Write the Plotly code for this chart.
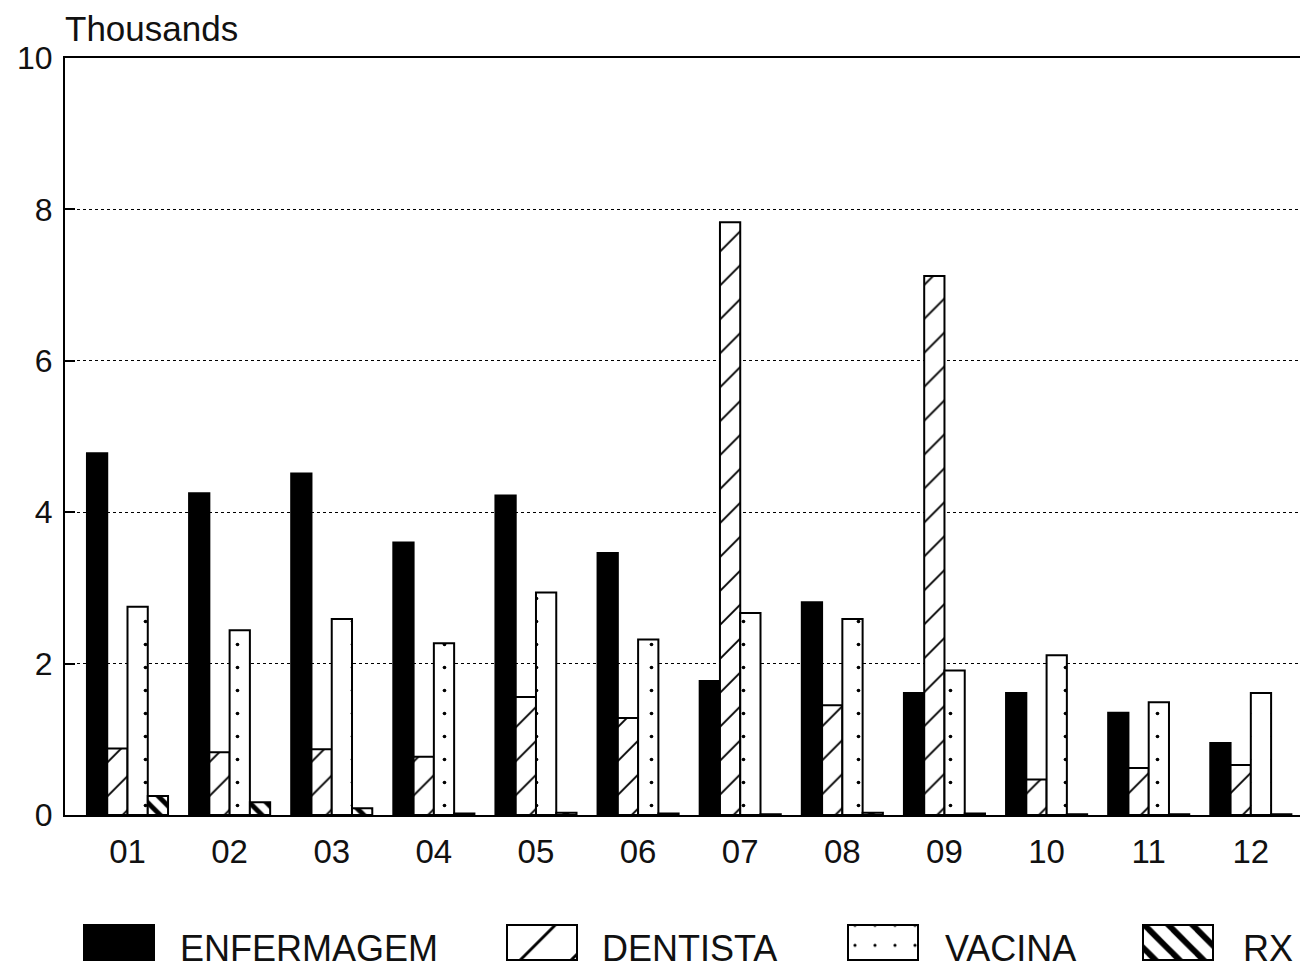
import plotly.graph_objects as go

# ---------------- data ----------------
months = ["01", "02", "03", "04", "05", "06", "07", "08", "09", "10", "11", "12"]
enfermagem = [4.78, 4.25, 4.51, 3.60, 4.22, 3.46, 1.77, 2.81, 1.61, 1.61, 1.35, 0.95]
dentista   = [0.88, 0.83, 0.87, 0.77, 1.56, 1.28, 7.83, 1.45, 7.12, 0.47, 0.62, 0.66]
vacina     = [2.75, 2.44, 2.59, 2.27, 2.94, 2.32, 2.67, 2.59, 1.91, 2.11, 1.49, 1.61]
rx         = [0.25, 0.17, 0.09, 0.02, 0.03, 0.02, 0.01, 0.03, 0.02, 0.01, 0.01, 0.01]
series_names = ["ENFERMAGEM", "DENTISTA", "VACINA", "RX"]
y_ticks = [0, 2, 4, 6, 8, 10]
y_ticktext = ["0", "2", "4", "6", "8", "10"]

FONT = "Liberation Sans"
OFF = 8                      # page offset of the figure (body margin)
W, H = 1300, 961
ML, MR, MT, MB = 57, 1, 50, 5
plot_h = H - MT - MB
main_bottom_page = 815
paper_bottom_page = H - MB + OFF
main_domain_bottom = (paper_bottom_page - main_bottom_page) / plot_h

styles = {
    "ENFERMAGEM": dict(color="black", line=dict(color="black", width=2)),
    "DENTISTA": dict(color="white", line=dict(color="black", width=2),
                     pattern=dict(shape="/", size=24, solidity=0.08,
                                  fgcolor="black", bgcolor="white", fillmode="replace")),
    "VACINA": dict(color="white", line=dict(color="black", width=2),
                   pattern=dict(shape=".", size=23, solidity=0.02,
                                fgcolor="black", bgcolor="white", fillmode="replace")),
    "RX": dict(color="white", line=dict(color="black", width=2),
               pattern=dict(shape="\\", size=12, solidity=0.4,
                            fgcolor="black", bgcolor="white", fillmode="replace")),
}
legend_styles = {
    "ENFERMAGEM": dict(color="black", line=dict(color="black", width=2)),
    "DENTISTA": dict(color="white", line=dict(color="black", width=2),
                     pattern=dict(shape="/", size=36, solidity=0.08,
                                  fgcolor="black", bgcolor="white", fillmode="replace")),
    "VACINA": dict(color="white", line=dict(color="black", width=2),
                   pattern=dict(shape=".", size=20, solidity=0.02,
                                fgcolor="black", bgcolor="white", fillmode="replace")),
    "RX": dict(color="white", line=dict(color="black", width=2),
               pattern=dict(shape="\\", size=17, solidity=0.35,
                            fgcolor="black", bgcolor="white", fillmode="replace")),
}

values = {"ENFERMAGEM": enfermagem, "DENTISTA": dentista, "VACINA": vacina, "RX": rx}

fig = go.Figure()
for name in series_names:
    fig.add_trace(go.Bar(x=months, y=values[name], name=name,
                         marker=styles[name], showlegend=False))

# legend row drawn as bars on an auxiliary axis measured in page pixels
legend_swatch_x = [119, 542, 883, 1178]      # swatch centres (px)
legend_text_x = [178, 600, 943, 1241]        # label left edges (px)
legend_base, legend_top = 4, 39              # swatch bottom/top above paper bottom (px)
legend_text_y = 16                           # label centre above paper bottom (px)
for i, name in enumerate(series_names):
    fig.add_trace(go.Bar(x=[legend_swatch_x[i]], y=[legend_top - legend_base], base=[legend_base],
                         width=[70], marker=legend_styles[name], showlegend=False,
                         xaxis="x2", yaxis="y2", hoverinfo="skip"))
    fig.add_annotation(x=legend_text_x[i], y=legend_text_y, xref="x2", yref="y2",
                       text=name, showarrow=False, xanchor="left", yanchor="middle",
                       font=dict(family=FONT, size=36, color="#111"))

leg_dom_top = 0.12
fig.update_layout(
    width=W, height=H,
    margin=dict(l=ML, r=MR, t=MT, b=MB, autoexpand=False),
    paper_bgcolor="white", plot_bgcolor="white",
    barmode="group", bargap=0.206, bargroupgap=0,
    font=dict(family=FONT, size=32, color="#111"),
    xaxis=dict(domain=[0, 1], range=[-0.612, 11.55], showgrid=False,
               showline=True, linecolor="black", linewidth=2, mirror=True,
               ticks="", ticklabelstandoff=6, tickfont=dict(size=33, family=FONT, color="#111"),
               anchor="y", fixedrange=True, automargin=False),
    yaxis=dict(domain=[main_domain_bottom, 1], range=[0, 10], tickvals=y_ticks, ticktext=y_ticktext,
               showgrid=True, gridcolor="black", gridwidth=1.3, griddash="dot",
               showline=True, linecolor="black", linewidth=2, zeroline=False,
               ticks="inside", ticklen=10, tickcolor="black", tickwidth=1.5,
               ticklabelstandoff=4, tickfont=dict(size=32, family=FONT, color="#111"),
               anchor="x", automargin=False),
    xaxis2=dict(domain=[0, 1], range=[ML + OFF, W - MR + OFF], visible=False, anchor="y2",
                fixedrange=True, automargin=False),
    yaxis2=dict(domain=[0, leg_dom_top], range=[0, leg_dom_top * plot_h], visible=False,
                anchor="x2", fixedrange=True, automargin=False),
)

fig.add_annotation(x=0, y=1, xref="paper", yref="paper", xanchor="left", yanchor="bottom",
                   yshift=8, xshift=-2, text="Thousands", showarrow=False,
                   font=dict(family=FONT, size=35, color="#111"))

# faint right frame edge
fig.add_shape(type="line", xref="x domain", yref="y domain", x0=1, x1=1, y0=0, y1=1,
              line=dict(color="#bbbbbb", width=1))

fig.write_html("out.html")
